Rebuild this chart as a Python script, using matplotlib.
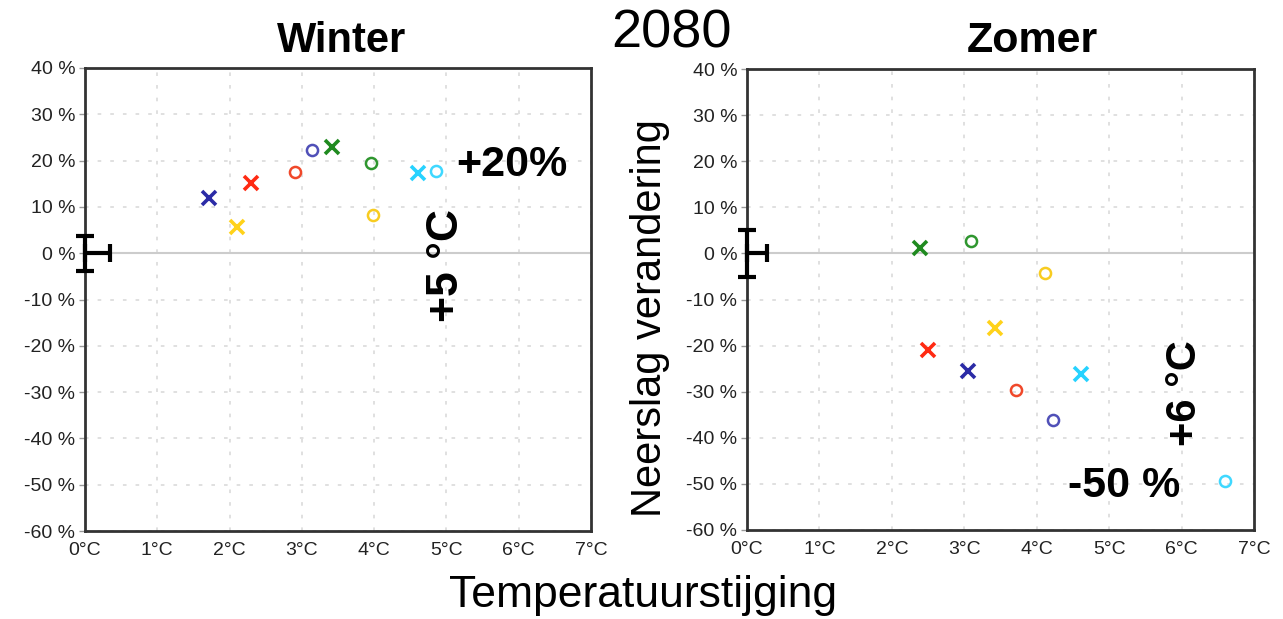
import matplotlib
matplotlib.use("Agg")
import matplotlib.pyplot as plt

plt.rcParams['font.family'] = ['Liberation Sans', 'DejaVu Sans']

# ---- data ----
model_colors = ['#2b2ba6', '#ff2a12', '#ffd21a', '#1f8a1f', '#26d2ff']
circle_colors = ['#5050b8', '#f0482a', '#f8cc20', '#2f962f', '#3fd8ff']

winter_cross_temp = [1.72, 2.29, 2.10, 3.42, 4.60]
winter_cross_prec = [11.9, 15.2, 5.6, 23.0, 17.4]
winter_circle_temp = [3.14, 2.91, 3.98, 3.95, 4.85]
winter_circle_prec = [22.2, 17.6, 8.3, 19.4, 17.8]

summer_cross_temp = [3.05, 2.50, 3.43, 2.39, 4.61]
summer_cross_prec = [-25.5, -21.0, -16.1, 1.1, -26.2]
summer_circle_temp = [4.22, 3.71, 4.11, 3.09, 6.60]
summer_circle_prec = [-36.2, -29.6, -4.35, 2.7, -49.3]

winter_err = (0.34, 3.8)   # (temp, precip) natural variability
summer_err = (0.28, 5.1)

x_ticks = [0, 1, 2, 3, 4, 5, 6, 7]
x_ticklabels = ['0°C', '1°C', '2°C', '3°C', '4°C', '5°C', '6°C', '7°C']
y_ticks = [-60, -50, -40, -30, -20, -10, 0, 10, 20, 30, 40]
y_ticklabels = ['-60 %', '-50 %', '-40 %', '-30 %', '-20 %', '-10 %', '0 %',
                '10 %', '20 %', '30 %', '40 %']

W, H = 1283, 619
fig = plt.figure(figsize=(W / 100, H / 100), dpi=100)

ax_w = fig.add_axes([85 / W, 1 - 531 / H, 506 / W, 463 / H])
ax_s = fig.add_axes([747 / W, 1 - 530 / H, 507 / W, 461 / H])


def style(ax):
    ax.set_xlim(0, 7)
    ax.set_ylim(-60, 40)
    ax.set_xticks(x_ticks)
    ax.set_xticklabels(x_ticklabels)
    ax.set_yticks(y_ticks)
    ax.set_yticklabels(y_ticklabels)
    ax.tick_params(axis='both', labelsize=14, colors='#222222',
                   length=4, width=1, pad=3)
    ax.tick_params(axis='x', length=0, pad=8)
    ax.tick_params(axis='y', color='#999999')
    ax.grid(True, color='#dddddd', linestyle=(0, (2, 5)), linewidth=1.3)
    ax.set_axisbelow(True)
    ax.axhline(0, color='#cccccc', linewidth=1.5, zorder=1)
    for sp in ax.spines.values():
        sp.set_color('#333333')
        sp.set_linewidth(2)


def draw(ax, ct, cp, ot, op, err):
    for i in range(len(model_colors)):
        ax.plot(ct[i], cp[i], linestyle='none', marker='x', markersize=10,
                markeredgewidth=2.6, color=model_colors[i], zorder=3)
        ax.plot(ot[i], op[i], linestyle='none', marker='o', markersize=8,
                markeredgewidth=1.8, markerfacecolor='none',
                markeredgecolor=circle_colors[i], zorder=3)
    eb = ax.errorbar([0], [0], xerr=[[0], [err[0]]], yerr=[[err[1]], [err[1]]],
                     color='black', elinewidth=3, capsize=6.5, capthick=3,
                     fmt='none', zorder=4)
    for art in eb.get_children():
        art.set_clip_on(False)


style(ax_w)
style(ax_s)
draw(ax_w, winter_cross_temp, winter_cross_prec, winter_circle_temp,
     winter_circle_prec, winter_err)
draw(ax_s, summer_cross_temp, summer_cross_prec, summer_circle_temp,
     summer_circle_prec, summer_err)

# titles
fig.text(342 / W, 1 - 52 / H, 'Winter', fontsize=30, fontweight='bold',
         ha='center', va='baseline')
fig.text(672 / W, 1 - 48 / H, '2080', fontsize=39, ha='center', va='baseline')
fig.text(1032 / W, 1 - 52 / H, 'Zomer', fontsize=31, fontweight='bold',
         ha='center', va='baseline')

# annotations
fig.text(456 / W, 1 - 176 / H, '+20%', fontsize=31, fontweight='bold',
         ha='left', va='baseline')
fig.text(447 / W, 1 - 265 / H, '+5 °C', fontsize=32, fontweight='bold',
         rotation=90, ha='center', va='center')
fig.text(1185 / W, 1 - 393 / H, '+6 °C', fontsize=30, fontweight='bold',
         rotation=90, ha='center', va='center')
fig.text(1068 / W, 1 - 497 / H, '-50 %', fontsize=31, fontweight='bold',
         ha='left', va='baseline')

# axis labels
fig.text(650 / W, 1 - 318 / H, 'Neerslag verandering', fontsize=30,
         rotation=90, ha='center', va='center')
fig.text(643 / W, 1 - 607 / H, 'Temperatuurstijging', fontsize=32,
         ha='center', va='baseline')

fig.savefig('out.png', dpi=100)
